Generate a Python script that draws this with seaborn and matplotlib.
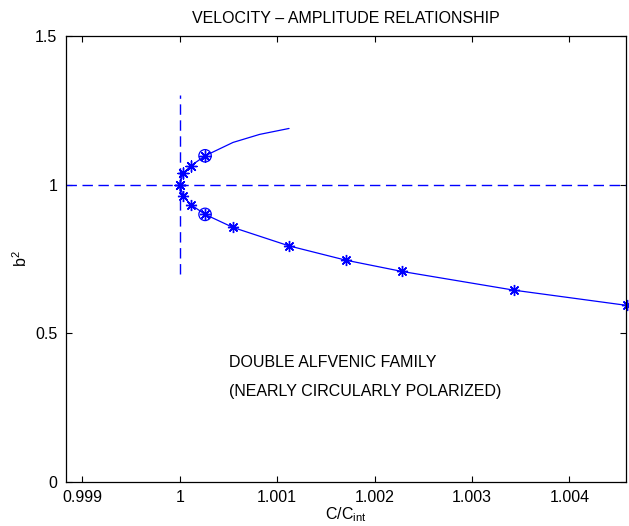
import numpy as np
import pandas as pd
import matplotlib
matplotlib.use("Agg")
import matplotlib.pyplot as plt
import seaborn as sns

# ---- data ----
c_lower = [1.0, 1.000034, 1.000113, 1.00026, 1.000547, 1.001122, 1.001704, 1.002282, 1.003432, 1.004586]
b_lower = [1.0, 0.962, 0.933, 0.900, 0.856, 0.794, 0.746, 0.708, 0.645, 0.594]
c_upper = [1.0, 1.000034, 1.000113, 1.00026, 1.000547, 1.00082, 1.001122]
b_upper = [1.0, 1.038, 1.063, 1.097, 1.142, 1.169, 1.189]
n_upper_marked = 4
c_circled = [1.00026, 1.00026]
b_circled = [0.900, 1.097]
ref_c = 1.0
ref_b = 1.0
vline_b = [0.7, 1.3]
xticks = [0.999, 1.0, 1.001, 1.002, 1.003, 1.004]
xtick_labels = ["0.999", "1", "1.001", "1.002", "1.003", "1.004"]
yticks = [0, 0.5, 1.0, 1.5]
ytick_labels = ["0", "0.5", "1", "1.5"]
xlim = (0.99883, 1.00458)
ylim = (0, 1.5)
title = "VELOCITY \u2013 AMPLITUDE RELATIONSHIP"
note_lines = ["DOUBLE ALFVENIC FAMILY", "(NEARLY CIRCULARLY POLARIZED)"]
note_pos = [(1.000506, 0.402), (1.000506, 0.304)]

sns.set_style("ticks")
plt.rcParams["font.family"] = ["Liberation Sans", "DejaVu Sans"]
plt.rcParams["mathtext.fontset"] = "custom"
plt.rcParams["mathtext.rm"] = "Liberation Sans"
plt.rcParams["mathtext.it"] = "Liberation Sans"
for k in ["text.color", "axes.labelcolor", "xtick.color", "ytick.color",
          "axes.edgecolor"]:
    plt.rcParams[k] = "black"

fig = plt.figure(figsize=(6.29, 5.26), dpi=100)
ax = fig.add_axes([0.1045, 0.0837, 0.9952 - 0.1045, 0.9316 - 0.0837])

blue = "#0000ff"
ast = (8, 2, 0)

lower = pd.DataFrame({"c": c_lower, "b": b_lower})
upper = pd.DataFrame({"c": c_upper, "b": b_upper})
circ = pd.DataFrame({"c": c_circled, "b": b_circled})

# reference dashed lines
dash = (0, (7.5, 4.0))
ax.axhline(ref_b, color=blue, lw=1.0, linestyle=dash)
sns.lineplot(x=[ref_c, ref_c], y=vline_b, ax=ax, color=blue, lw=1.0,
             linestyle=dash, sort=False, estimator=None)

# branches
sns.lineplot(data=lower, x="c", y="b", ax=ax, color=blue, lw=0.9, sort=False,
             estimator=None, marker=ast, markersize=8, markeredgewidth=1.0,
             markeredgecolor=blue, clip_on=False)
sns.lineplot(data=upper, x="c", y="b", ax=ax, color=blue, lw=0.9, sort=False,
             estimator=None)
sns.scatterplot(data=upper.iloc[:n_upper_marked], x="c", y="b", ax=ax,
                marker=ast, s=64, color=blue, edgecolor=blue, linewidth=1.0)
sns.scatterplot(data=circ, x="c", y="b", ax=ax, marker="o", s=80,
                facecolor="none", edgecolor=blue, linewidth=0.9)

for (x, y), t in zip(note_pos, note_lines):
    ax.text(x, y, t, fontsize=11.5, ha="left", va="center", color="black")

ax.set_xlim(*xlim)
ax.set_ylim(*ylim)
ax.set_xticks(xticks)
ax.set_xticklabels(xtick_labels)
ax.set_yticks(yticks)
ax.set_yticklabels(ytick_labels)
ax.tick_params(direction="in", length=4, width=0.8, top=True, right=True,
               labelsize=11.5, pad=6, colors="black")
for s in ax.spines.values():
    s.set_linewidth(0.9)
    s.set_color("black")
    s.set_visible(True)
ax.set_title(title, fontsize=11.5, pad=9, color="black")
ax.set_xlabel("C/C$_{\\mathrm{int}}$", fontsize=11.5, labelpad=0)
ax.set_ylabel("b$^2$", fontsize=11.5, labelpad=3.5)

fig.savefig("out.png", dpi=100)
